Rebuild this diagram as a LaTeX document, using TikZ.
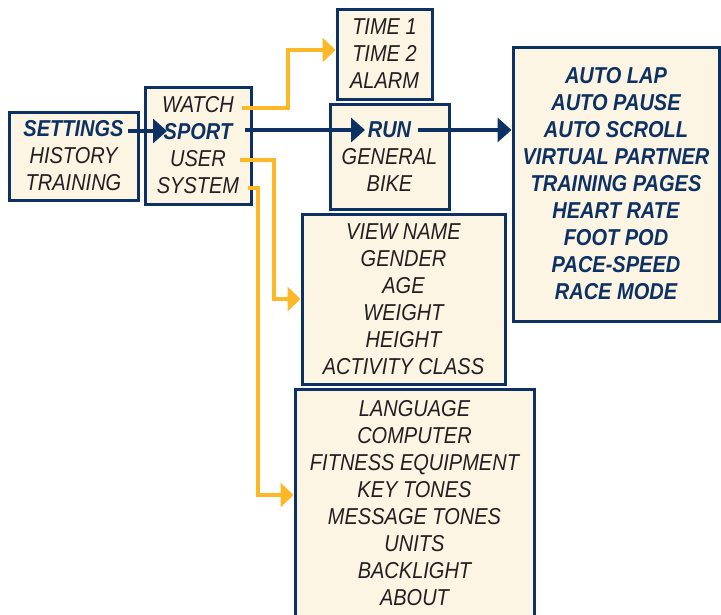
\documentclass[tikz,border=0pt]{standalone}
\usepackage{fontspec}
\setmainfont{Liberation Sans}[FakeStretch=0.87]
\usetikzlibrary{arrows.meta,calc}
\definecolor{navy}{HTML}{0E3163}
\definecolor{gold}{HTML}{FDB827}
\definecolor{cream}{HTML}{FCF5E4}
\definecolor{ink}{HTML}{231F20}
\newcommand{\hlt}[1]{{\bfseries\color{navy}#1}}
\begin{document}
\begin{tikzpicture}[x=1pt,y=-1pt,
  box/.style={draw=navy,line width=3pt,fill=cream,inner sep=0pt,align=center,
    font=\fontsize{23}{27}\selectfont\itshape,text=ink},
  navyarrow/.style={draw=navy,line width=4pt,-{Triangle[length=14pt,width=24pt]}},
  goldarrow/.style={draw=gold,line width=4pt,-{Triangle[length=13pt,width=24pt]}}]
\useasboundingbox (0,0) rectangle (721,614);
\node[box,minimum width=129pt,minimum height=88pt] (settings) at (73.5,156)
  {\hlt{SETTINGS}\\HISTORY\\TRAINING};
\node[box,minimum width=106pt,minimum height=117pt] (watch) at (198,145.5)
  {WATCH\\\hlt{SPORT}\\USER\\SYSTEM};
\node[box,minimum width=95pt,minimum height=90pt] (time) at (384.5,54)
  {TIME 1\\TIME 2\\ALARM};
\node[box,minimum width=119pt,minimum height=105pt] (run) at (389.5,156.5)
  {\hlt{RUN}\\GENERAL\\BIKE};
\node[box,minimum width=206pt,minimum height=274pt] (auto) at (616,184)
  {\hlt{AUTO LAP}\\\hlt{AUTO PAUSE}\\\hlt{AUTO SCROLL}\\\hlt{VIRTUAL PARTNER}\\\hlt{TRAINING PAGES}\\\hlt{HEART RATE}\\\hlt{FOOT POD}\\\hlt{PACE-SPEED}\\\hlt{RACE MODE}};
\node[box,minimum width=203pt,minimum height=170pt] (user) at (403.5,299)
  {VIEW NAME\\GENDER\\AGE\\WEIGHT\\HEIGHT\\ACTIVITY CLASS};
\node[box,minimum width=239pt,minimum height=228pt] (system) at (414.5,503)
  {LANGUAGE\\COMPUTER\\FITNESS EQUIPMENT\\KEY TONES\\MESSAGE TONES\\UNITS\\BACKLIGHT\\ABOUT};
% connector end points
\coordinate (setout) at (128,131);
\coordinate (sportin) at (167,131);
\coordinate (sportout) at (245,130);
\coordinate (runin) at (365,130);
\coordinate (runout) at (418,130);
\coordinate (watchout) at (242,108);
\coordinate (userout) at (240,160);
\coordinate (sysout) at (248,188);
% navy arrows
\draw[navyarrow] (setout) -- (sportin);
\draw[navyarrow] (sportout) -- (runin);
\draw[navyarrow] (runout) -- (runout -| auto.west);
% gold arrows
\draw[goldarrow] (watchout) -- ++(46,0) |- ($(time.west)+(0,-4)$);
\draw[goldarrow] (userout) -- ++(34,0) |- (user.west);
\draw[goldarrow] (sysout) -- ++(10,0) |- ($(system.west)+(0,-8)$);
\end{tikzpicture}
\end{document}
